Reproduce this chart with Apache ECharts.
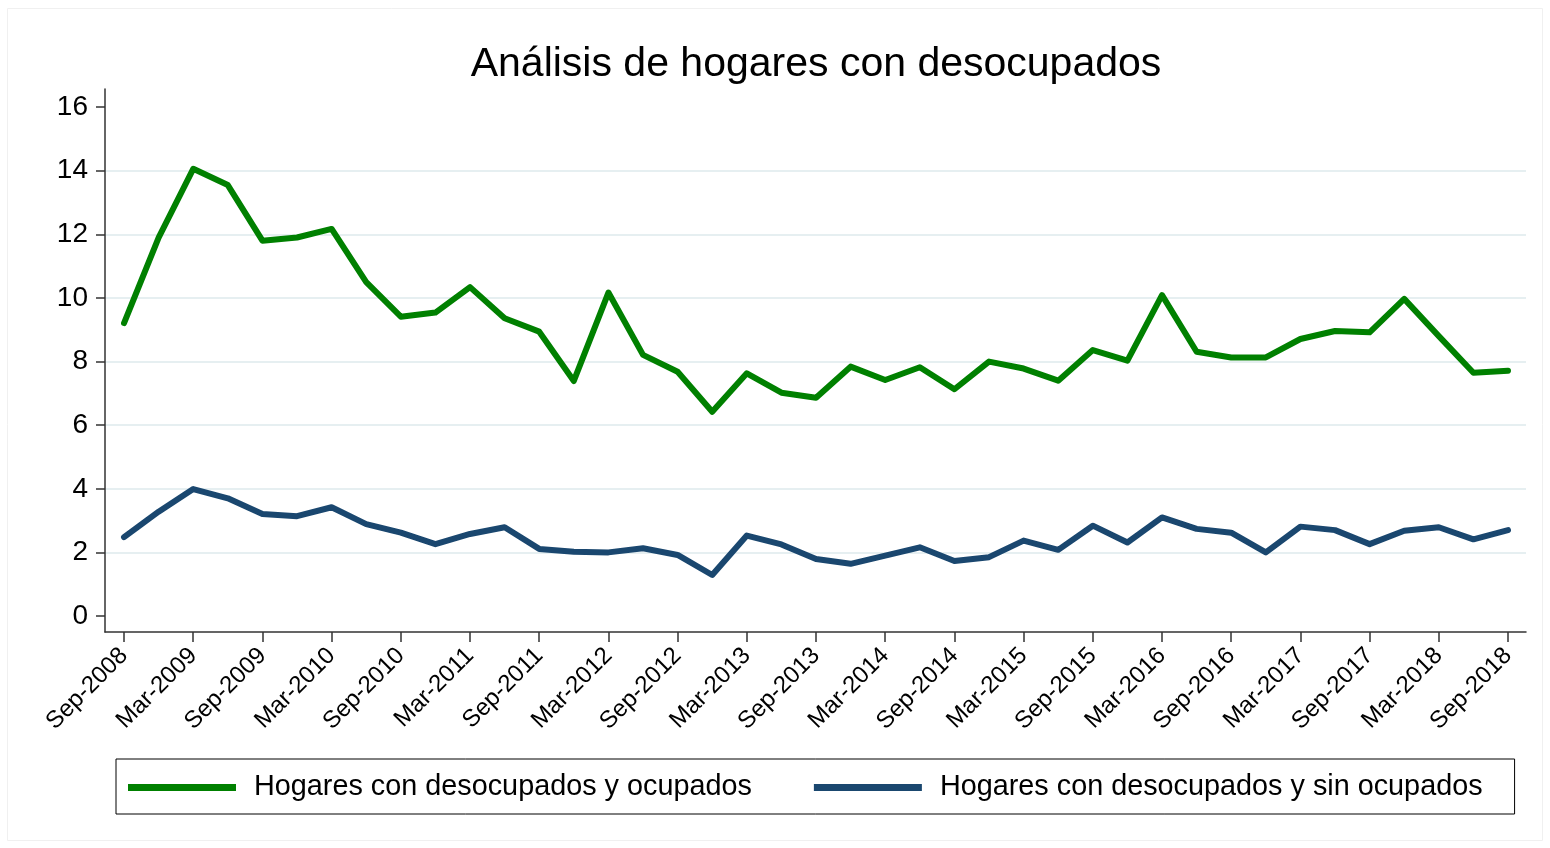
<!DOCTYPE html>
<html lang="es">
<head>
<meta charset="UTF-8">
<title>Análisis de hogares con desocupados</title>
<script src="https://cdn.jsdelivr.net/npm/echarts@6/dist/echarts.min.js"></script>
<style>
  html, body { margin: 0; padding: 0; background: #fff; }
  #chart { width: 1550px; height: 848px; }
</style>
</head>
<body>
<div id="chart"></div>
<script>
// trimestres, Sep-2008 .. Sep-2018
var quarters = [
  'Sep-2008', 'Dec-2008', 'Mar-2009', 'Jun-2009', 'Sep-2009', 'Dec-2009', 'Mar-2010', 'Jun-2010',
  'Sep-2010', 'Dec-2010', 'Mar-2011', 'Jun-2011', 'Sep-2011', 'Dec-2011', 'Mar-2012', 'Jun-2012',
  'Sep-2012', 'Dec-2012', 'Mar-2013', 'Jun-2013', 'Sep-2013', 'Dec-2013', 'Mar-2014', 'Jun-2014',
  'Sep-2014', 'Dec-2014', 'Mar-2015', 'Jun-2015', 'Sep-2015', 'Dec-2015', 'Mar-2016', 'Jun-2016',
  'Sep-2016', 'Dec-2016', 'Mar-2017', 'Jun-2017', 'Sep-2017', 'Dec-2017', 'Mar-2018', 'Jun-2018',
  'Sep-2018'
]
var conOcupados = [
  9.21, 11.9, 14.06, 13.55, 11.8, 11.9, 12.17, 10.5,
  9.41, 9.54, 10.34, 9.36, 8.94, 7.39, 10.17, 8.21,
  7.68, 6.42, 7.63, 7.02, 6.86, 7.84, 7.42, 7.82,
  7.13, 8.0, 7.78, 7.40, 8.36, 8.03, 10.09, 8.31,
  8.13, 8.13, 8.71, 8.96, 8.92, 9.97, 8.8, 7.65,
  7.71
]
var sinOcupados = [
  2.48, 3.28, 3.99, 3.70, 3.21, 3.14, 3.42, 2.89,
  2.62, 2.26, 2.58, 2.79, 2.11, 2.02, 2.0, 2.13,
  1.92, 1.29, 2.53, 2.25, 1.79, 1.64, 1.90, 2.16,
  1.73, 1.85, 2.37, 2.08, 2.84, 2.31, 3.10, 2.74,
  2.62, 2.0, 2.81, 2.70, 2.26, 2.68, 2.79, 2.41,
  2.70
]
var yTicks = [0, 2, 4, 6, 8, 10, 12, 14, 16]
var xTicks = [0, 2, 4, 6, 8, 10, 12, 14, 16, 18, 20, 22, 24, 26, 28, 30, 32, 34, 36, 38, 40]

var chart = echarts.init(document.getElementById('chart'))
var font = 'Liberation Sans, Arial, sans-serif'
var grid = '#e6eff1'

function pairs(arr) {
  return arr.map(function (v, i) { return [i, v] })
}

var option = {
  backgroundColor: '#fff',
  animation: false,
  graphic: [{
    type: 'rect',
    shape: { x: 7.5, y: 8.5, width: 1535, height: 832 },
    style: { fill: 'none', stroke: '#f0f0f0', lineWidth: 1 },
    silent: true
  }],
  title: {
    text: 'Análisis de hogares con desocupados',
    left: 811, textAlign: 'center',
    top: 39,
    textStyle: { fontFamily: font, fontSize: 41, fontWeight: 'normal', color: '#000' }
  },
  legend: {
    left: 116, top: 759,
    padding: [14, 32, 12, 12],
    borderColor: '#000', borderWidth: 1,
    itemWidth: 108, itemHeight: 7, itemGap: 62,
    icon: 'rect',
    textStyle: { fontFamily: font, fontSize: 28.8, color: '#000', padding: [0, 0, 0, 13] },
    data: ['Hogares con desocupados y ocupados', 'Hogares con desocupados y sin ocupados']
  },
  grid: { left: 105, right: 24, top: 89, bottom: 216, containLabel: false },
  xAxis: {
    type: 'value',
    min: -0.55, max: 40.52,
    axisLine: { show: true, onZero: false, lineStyle: { color: '#333', width: 1.5 } },
    axisTick: { show: true, length: 10, customValues: xTicks, lineStyle: { color: '#333', width: 1.5 } },
    axisLabel: {
      customValues: xTicks, rotate: 45, margin: 20,
      fontFamily: font, fontSize: 24, color: '#000',
      formatter: function (v) { return quarters[Math.round(v)] }
    },
    splitLine: { show: false }
  },
  yAxis: {
    type: 'value',
    min: -0.503, max: 16.57,
    axisLine: { show: true, onZero: false, lineStyle: { color: '#333', width: 1.5 } },
    axisTick: { show: true, length: 9, customValues: yTicks, lineStyle: { color: '#333', width: 1.5 } },
    axisLabel: { customValues: yTicks, margin: 17, fontFamily: font, fontSize: 28, color: '#000' },
    splitLine: {
      show: true,
      lineStyle: { color: ['transparent', grid, grid, grid, grid, grid, grid, grid, 'transparent'], width: 2 }
    }
  },
  series: [{
    name: 'Hogares con desocupados y ocupados',
    type: 'line',
    data: pairs(conOcupados),
    showSymbol: false,
    color: '#008000',
    lineStyle: { width: 6, color: '#008000', join: 'round', cap: 'round' }
  }, {
    name: 'Hogares con desocupados y sin ocupados',
    type: 'line',
    data: pairs(sinOcupados),
    showSymbol: false,
    color: '#1a476f',
    lineStyle: { width: 6, color: '#1a476f', join: 'round', cap: 'round' }
  }]
}
chart.setOption(option)
</script>
</body>
</html>
